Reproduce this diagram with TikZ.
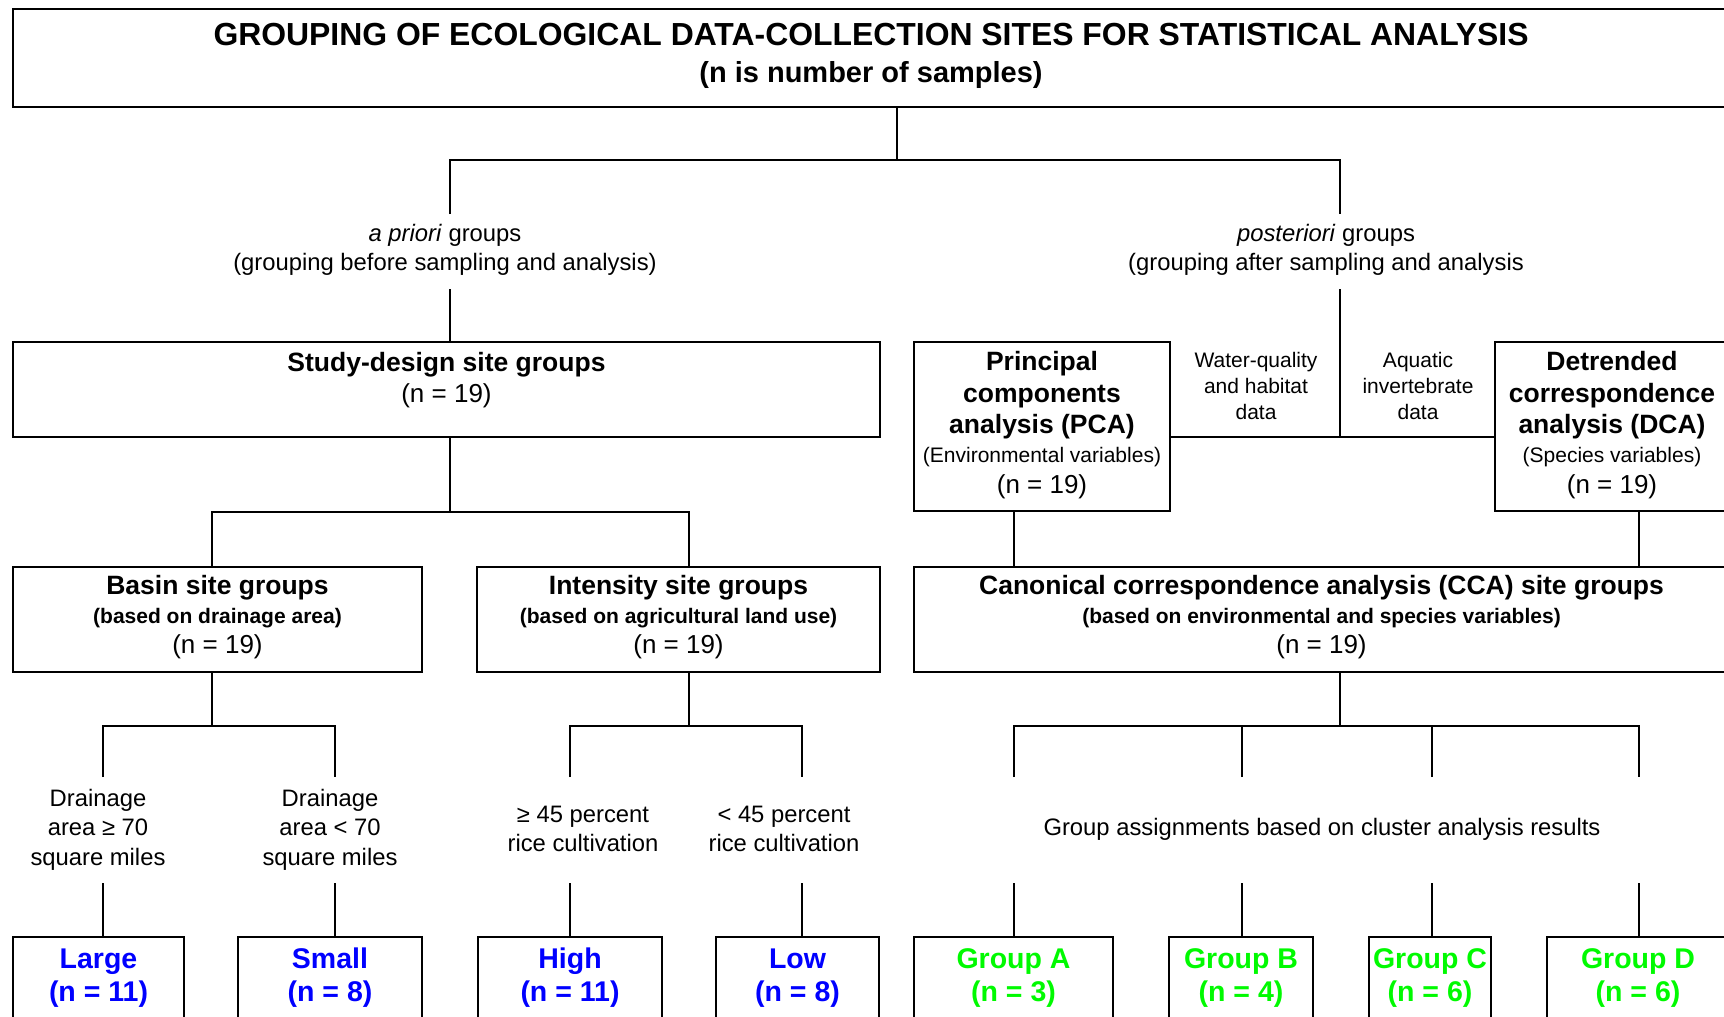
\documentclass[tikz,border=0pt]{standalone}
\usepackage{fontspec}
\setmainfont{Liberation Sans}
\definecolor{cblue}{RGB}{0,0,255}
\definecolor{cgreen}{RGB}{0,250,0}
\begin{document}
\begin{tikzpicture}[x=1pt,y=-1pt,
  bx/.style={draw, line width=1.8pt, inner sep=0pt},
  ln/.style={line width=1.8pt},
  ttl/.style={anchor=base, inner sep=0pt, font=\bfseries\fontsize{31.9}{36}\selectfont},
  ttlb/.style={anchor=base, inner sep=0pt, font=\bfseries\fontsize{29}{34}\selectfont},
  lbl/.style={anchor=base, inner sep=0pt, font=\fontsize{23.8}{28}\selectfont},
  hd/.style={anchor=base, inner sep=0pt, font=\bfseries\fontsize{26.5}{30}\selectfont},
  sub/.style={anchor=base, inner sep=0pt, font=\bfseries\fontsize{21}{25}\selectfont},
  small/.style={anchor=base, inner sep=0pt, font=\fontsize{21}{25}\selectfont},
  nn/.style={anchor=base, inner sep=0pt, font=\fontsize{26}{30}\selectfont},
  res/.style={anchor=base, inner sep=0pt, font=\bfseries\fontsize{28.5}{32}\selectfont},
]
\useasboundingbox (0,0) rectangle (1724,1017);
\clip (0,0) rectangle (1724,1017);
\fill[white] (0,0) rectangle (1724,1017);

% boxes
\node[bx, minimum width=1716pt, minimum height=98pt] (titlebox) at (871,58) {};
\node[bx, minimum width=867pt, minimum height=95pt] (study) at (446.5,389.5) {};
\node[bx, minimum width=409pt, minimum height=105pt] (basin) at (217.5,619.5) {};
\node[bx, minimum width=403pt, minimum height=105pt] (intens) at (678.5,619.5) {};
\node[bx, minimum width=256pt, minimum height=169pt] (pca) at (1042,426.5) {};
\node[bx, minimum width=234pt, minimum height=169pt] (dca) at (1612,426.5) {};
\node[bx, minimum width=815pt, minimum height=105pt] (cca) at (1321.5,619.5) {};
\node[bx, minimum width=171pt, minimum height=110pt] (large) at (98.5,992) {};
\node[bx, minimum width=184pt, minimum height=110pt] (small) at (330,992) {};
\node[bx, minimum width=184pt, minimum height=110pt] (high) at (570,992) {};
\node[bx, minimum width=163pt, minimum height=110pt] (low) at (797.5,992) {};
\node[bx, minimum width=199pt, minimum height=110pt] (ga) at (1013.5,992) {};
\node[bx, minimum width=144pt, minimum height=110pt] (gb) at (1241,992) {};
\node[bx, minimum width=122pt, minimum height=110pt] (gc) at (1430,992) {};
\node[bx, minimum width=182pt, minimum height=110pt] (gd) at (1638,992) {};

% title
\node[ttl] (t1) at (871,45) {GROUPING OF ECOLOGICAL DATA-COLLECTION SITES FOR STATISTICAL ANALYSIS};
\node[ttlb] (t2) at (871,82) {(n is number of samples)};

% a priori / posteriori labels
\node[lbl] (ap1) at (445,241.5) {\textit{a priori} groups};
\node[lbl] (ap2) at (445,270.5) {(grouping before sampling and analysis)};
\node[lbl] (po1) at (1326,241.5) {\textit{posteriori} groups};
\node[lbl] (po2) at (1326,270.5) {(grouping after sampling and analysis};

% study box text
\node[hd] (s1) at (446.5,371.5) {Study-design site groups};
\node[nn] (s2) at (446.5,402) {(n = 19)};

% basin / intensity
\node[hd] (b1) at (217.5,594.5) {Basin site groups};
\node[sub] (b2) at (217.5,623.5) {(based on drainage area)};
\node[nn] (b3) at (217.5,653) {(n = 19)};
\node[hd] (i1) at (678.5,594.5) {Intensity site groups};
\node[sub] (i2) at (678.5,623.5) {(based on agricultural land use)};
\node[nn] (i3) at (678.5,653) {(n = 19)};

% PCA / DCA
\node[hd] (p1) at (1042,370.5) {Principal};
\node[hd] (p2) at (1042,402) {components};
\node[hd] (p3) at (1042,433.5) {analysis (PCA)};
\node[small] (p4) at (1042,462.5) {(Environmental variables)};
\node[nn] (p5) at (1042,493) {(n = 19)};
\node[hd] (d1) at (1612,370.5) {Detrended};
\node[hd] (d2) at (1612,402) {correspondence};
\node[hd] (d3) at (1612,433.5) {analysis (DCA)};
\node[small] (d4) at (1612,462.5) {(Species variables)};
\node[nn] (d5) at (1612,493) {(n = 19)};

% data labels
\node[small] (w1) at (1256,367.5) {Water-quality};
\node[small] (w2) at (1256,393.5) {and habitat};
\node[small] (w3) at (1256,419.5) {data};
\node[small] (a1) at (1418,367.5) {Aquatic};
\node[small] (a2) at (1418,393.5) {invertebrate};
\node[small] (a3) at (1418,419.5) {data};

% CCA
\node[hd] (c1) at (1321.5,594.5) {Canonical correspondence analysis (CCA) site groups};
\node[sub] (c2) at (1321.5,623.5) {(based on environmental and species variables)};
\node[nn] (c3) at (1321.5,653) {(n = 19)};

% criteria labels
\node[lbl] (dr1a) at (98,806.5) {Drainage};
\node[lbl] (dr1b) at (98,835.5) {area ≥ 70};
\node[lbl] (dr1c) at (98,865) {square miles};
\node[lbl] (dr2a) at (330,806.5) {Drainage};
\node[lbl] (dr2b) at (330,835.5) {area < 70};
\node[lbl] (dr2c) at (330,865) {square miles};
\node[lbl] (hi1) at (583,822.5) {≥ 45 percent};
\node[lbl] (hi2) at (583,851) {rice cultivation};
\node[lbl] (lo1) at (784,822.5) {< 45 percent};
\node[lbl] (lo2) at (784,851) {rice cultivation};
\node[lbl] (ga1) at (1322,835.5) {Group assignments based on cluster analysis results};

% result texts
\node[res, text=cblue] (L1) at (98.5,968) {Large};
\node[res, text=cblue] (L2) at (98.5,1001) {(n = 11)};
\node[res, text=cblue] (S1) at (330,968) {Small};
\node[res, text=cblue] (S2) at (330,1001) {(n = 8)};
\node[res, text=cblue] (H1) at (570,968) {High};
\node[res, text=cblue] (H2) at (570,1001) {(n = 11)};
\node[res, text=cblue] (W1) at (797.5,968) {Low};
\node[res, text=cblue] (W2) at (797.5,1001) {(n = 8)};
\node[res, text=cgreen] (A1) at (1013.5,968) {Group A};
\node[res, text=cgreen] (A2) at (1013.5,1001) {(n = 3)};
\node[res, text=cgreen] (B1) at (1241,968) {Group B};
\node[res, text=cgreen] (B2) at (1241,1001) {(n = 4)};
\node[res, text=cgreen] (C1) at (1430,968) {Group C};
\node[res, text=cgreen] (C2) at (1430,1001) {(n = 6)};
\node[res, text=cgreen] (D1) at (1638,968) {Group D};
\node[res, text=cgreen] (D2) at (1638,1001) {(n = 6)};

% junction coordinates
\coordinate (j1) at (897,160);
\coordinate (aprTop) at (450,214);
\coordinate (posTop) at (1340,214);
\coordinate (aprBot) at (450,289);
\coordinate (posBot) at (1340,289);
\coordinate (j3) at (1340,437);
\coordinate (j2) at (450,512);
\coordinate (bxj) at (212,512);
\coordinate (ixj) at (689,512);
\coordinate (bj) at (212,726);
\coordinate (ij) at (689,726);
\coordinate (cj) at (1340,726);
\coordinate (dr1Top) at (103,777);
\coordinate (dr2Top) at (335,777);
\coordinate (hiTop) at (570,777);
\coordinate (loTop) at (802,777);
\coordinate (gaTop) at (1014,777);
\coordinate (gbTop) at (1242,777);
\coordinate (gcTop) at (1432,777);
\coordinate (gdTop) at (1639,777);
\coordinate (dr1Bot) at (103,883);
\coordinate (dr2Bot) at (335,883);
\coordinate (hiBot) at (570,883);
\coordinate (loBot) at (802,883);
\coordinate (gaBot) at (1014,883);
\coordinate (gbBot) at (1242,883);
\coordinate (gcBot) at (1432,883);
\coordinate (gdBot) at (1639,883);
\coordinate (pcaX) at (1014,0);
\coordinate (dcaX) at (1639,0);

% connectors
\draw[ln] (titlebox.south -| j1) -- (j1);
\draw[ln] (aprTop) |- (j1) -| (posTop);
\draw[ln] (aprBot) -- (study.north -| aprBot);
\draw[ln] (posBot) -- (j3);
\draw[ln] (pca.east |- j3) -- (dca.west |- j3);
\draw[ln] (study.south -| j2) -- (j2);
\draw[ln] (basin.north -| bxj) -- (bxj) -- (ixj) -- (intens.north -| ixj);
\draw[ln] (basin.south -| bj) -- (bj);
\draw[ln] (dr1Top) |- (bj) -| (dr2Top);
\draw[ln] (intens.south -| ij) -- (ij);
\draw[ln] (hiTop) |- (ij) -| (loTop);
\draw[ln] (pca.south -| pcaX) -- (cca.north -| pcaX);
\draw[ln] (dca.south -| dcaX) -- (cca.north -| dcaX);
\draw[ln] (cca.south -| cj) -- (cj);
\draw[ln] (gaTop) |- (cj) -| (gdTop);
\draw[ln] (gbTop) -- (gbTop |- cj);
\draw[ln] (gcTop) -- (gcTop |- cj);
\draw[ln] (dr1Bot) -- (large.north -| dr1Bot);
\draw[ln] (dr2Bot) -- (small.north -| dr2Bot);
\draw[ln] (hiBot) -- (high.north -| hiBot);
\draw[ln] (loBot) -- (low.north -| loBot);
\draw[ln] (gaBot) -- (ga.north -| gaBot);
\draw[ln] (gbBot) -- (gb.north -| gbBot);
\draw[ln] (gcBot) -- (gc.north -| gcBot);
\draw[ln] (gdBot) -- (gd.north -| gdBot);
\end{tikzpicture}
\end{document}
